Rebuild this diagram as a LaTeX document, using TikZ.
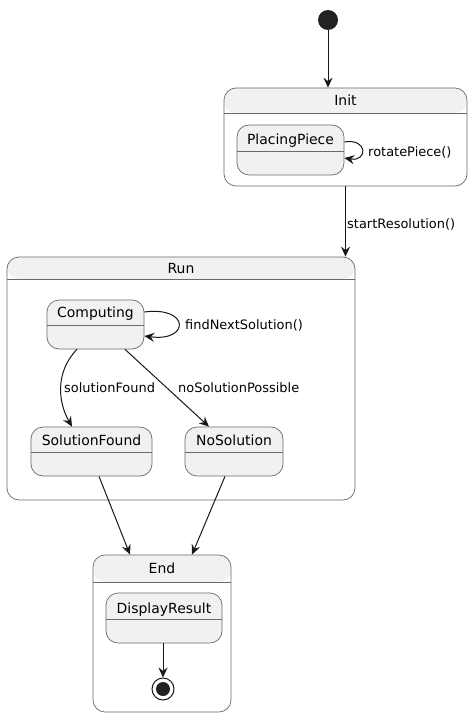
\documentclass[tikz,border=0pt]{standalone}
\usepackage{fontspec}
\setmainfont{DejaVu Sans}
\usetikzlibrary{arrows.meta,calc}
\definecolor{stfill}{HTML}{F1F1F1}
\definecolor{stline}{HTML}{181818}
\definecolor{boxline}{HTML}{6A6A6A}
\definecolor{startcol}{HTML}{222222}
\begin{document}
\begin{tikzpicture}[x=1bp,y=-1bp,
  st/.style={draw=boxline, fill=stfill, line width=0.7bp, rounded corners=12bp, inner sep=0pt,
    path picture={\draw[boxline, line width=0.7bp] ([yshift=-#1 bp]path picture bounding box.north west) -- ([yshift=-#1 bp]path picture bounding box.north east);}},
  comp/.style={draw=boxline, fill=white, line width=0.7bp, rounded corners=12bp, inner sep=0pt,
    path picture={\fill[stfill] (path picture bounding box.north west) rectangle ([yshift=-#1 bp]path picture bounding box.north east);
      \draw[boxline, line width=0.7bp] ([yshift=-#1 bp]path picture bounding box.north west) -- ([yshift=-#1 bp]path picture bounding box.north east);}},
  sname/.style={font=\fontsize{14}{16}\selectfont, inner sep=0pt, anchor=base},
  lbl/.style={font=\fontsize{13}{15}\selectfont, inner sep=0pt, anchor=base west},
  arr/.style={draw=stline, line width=1bp, -{Stealth[length=10bp,width=9bp,inset=3.5bp]}}]
\useasboundingbox (0,0) rectangle (473,716);

% start
\node[circle, fill=startcol, minimum size=20bp, inner sep=0pt] (start) at (328,20) {};

% Init composite
\node[comp=25, minimum width=243bp, minimum height=98bp] (init) at (345.5,137) {};
\node[sname] (initT) at (345.5,106) {Init};
\node[st=26, minimum width=107bp, minimum height=50bp] (pp) at (290.5,150) {};
\node[sname] (ppT) at (290.5,144) {PlacingPiece};

% Run composite
\node[comp=22, minimum width=348bp, minimum height=243bp] (run) at (181,378.5) {};
\node[sname] (runT) at (181,273) {Run};
\node[st=25, minimum width=97bp, minimum height=49bp] (comp) at (95.5,324.5) {};
\node[sname] (compT) at (95.5,317) {Computing};
\node[st=25, minimum width=121bp, minimum height=49bp] (sf) at (91.5,451.5) {};
\node[sname] (sfT) at (91.5,445) {SolutionFound};
\node[st=25, minimum width=98bp, minimum height=49bp] (ns) at (234,451.5) {};
\node[sname] (nsT) at (234,445) {NoSolution};

% End composite
\node[comp=27, minimum width=138bp, minimum height=157bp] (endst) at (162,633.5) {};
\node[sname] (endT) at (162,573) {End};
\node[st=26, minimum width=116bp, minimum height=50bp] (dr) at (164,618) {};
\node[sname] (drT) at (164,613) {DisplayResult};

% final state
\node[circle, draw=stline, line width=1bp, minimum size=22bp, inner sep=0pt] (fin) at (163,689) {};
\fill[startcol] (fin.center) circle (7bp);

% connectors
\draw[arr] (start) -- (start |- init.north);
\draw[arr] ($(pp.east)+(0,-8)$) .. controls (368,138) and (368,162) .. ($(pp.east)+(0,8)$);
\node[lbl] (rotL) at (368,156) {rotatePiece()};

\draw[arr] (init.south) -- (init.south |- run.north);
\node[lbl] (startL) at (347,228) {startResolution()};

\draw[arr] ($(comp.east)+(0,-12.5)$) .. controls (190,306) and (190,342) .. ($(comp.east)+(0,11.5)$);
\node[lbl] (findL) at (185,329) {findNextSolution()};

\draw[arr] ($(comp.south)+(-18.5,0)$) .. controls (55,372) and (58,402) .. ($(sf.north)+(-19.5,0)$);
\node[lbl] (sfL) at (64,392) {solutionFound};
\draw[arr] ($(comp.south)+(29.5,0)$) -- ($(ns.north)+(-25,0)$);
\node[lbl] (nsL) at (178,392) {noSolutionPossible};

\draw[arr] ($(sf.south)+(7.5,0)$) -- ($(endst.north)+(-32,0)$);
\draw[arr] ($(ns.south)+(-9,0)$) -- ($(endst.north)+(30,0)$);

\draw[arr] (dr.south -| fin) -- (fin);
\end{tikzpicture}
\end{document}
